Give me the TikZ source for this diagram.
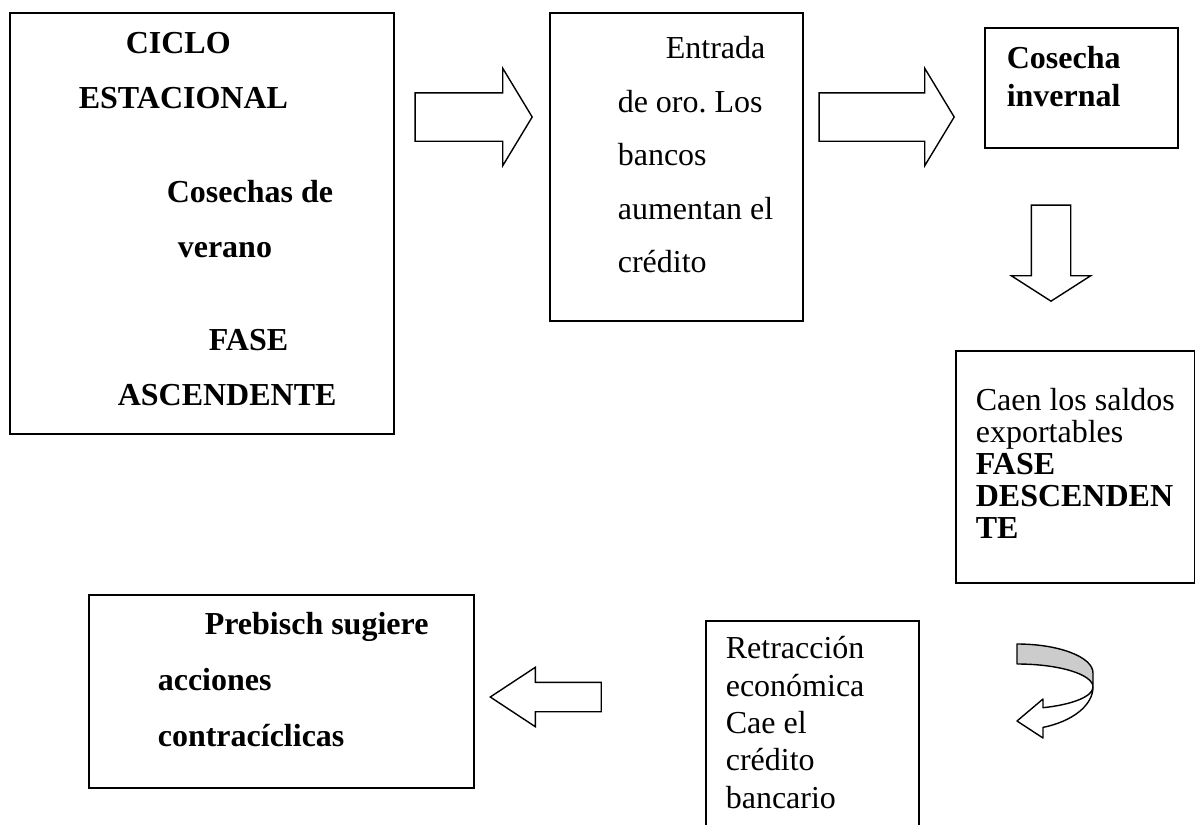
\documentclass[tikz,border=0pt]{standalone}
\usepackage{fontspec}
\setmainfont{Liberation Serif}
\usetikzlibrary{shapes.arrows}

\begin{document}
\begin{tikzpicture}[x=1pt, y=-1pt,
caja/.style={draw, line width=1.6pt, inner sep=0pt, anchor=north west},
flecha/.style={draw, fill=white, line width=1.4pt, single arrow, anchor=tip},
cinta/.style={draw, line width=1.4pt, line join=round}]
\useasboundingbox (0,0) rectangle (1195,825);
% cajas de texto
\node [caja] (verano) at (9,12) {\parbox[c][421pt][t]{384pt}{\bfseries\fontsize{32}{55}\selectfont
\rule{0pt}{41pt}\hspace*{116pt}CICLO\\
\hspace*{69pt}ESTACIONAL\\[39pt]
\hspace*{157pt}Cosechas de\\
\hspace*{168pt}verano\\[38pt]
\hspace*{199pt}FASE\\
\hspace*{108pt}ASCENDENTE}};
\node [caja] (oro) at (549,12) {\parbox[c][308pt][t]{253pt}{\fontsize{32}{53.5}\selectfont
\rule{0pt}{46pt}\hspace*{116pt}Entrada\\
\hspace*{68pt}de oro.\ Los\\
\hspace*{68pt}bancos\\
\hspace*{68pt}aumentan el\\
\hspace*{68pt}crédito}};
\node [caja] (invernal) at (984,27) {\parbox[c][120pt][t]{193pt}{\bfseries\fontsize{32}{38}\selectfont
\rule{0pt}{41pt}\hspace*{22pt}Cosecha\\
\hspace*{22pt}invernal}};
\node [caja] (descendente) at (955,350) {\parbox[c][232pt][t]{239pt}{\fontsize{32}{32}\selectfont
\rule{0pt}{60pt}\hspace*{20pt}Caen los saldos\\
\hspace*{20pt}exportables\\
\hspace*{20pt}\textbf{FASE}\\
\hspace*{20pt}\textbf{DESCENDEN}\\
\hspace*{20pt}\textbf{TE}}};
\node [caja] (retraccion) at (705,620) {\parbox[c][240pt][t]{213pt}{\fontsize{32}{37.3}\selectfont
\rule{0pt}{38pt}\hspace*{20pt}Retracción\\
\hspace*{20pt}económica\\
\hspace*{20pt}Cae el\\
\hspace*{20pt}crédito\\
\hspace*{20pt}bancario}};
\node [caja] (contraciclicas) at (88,594) {\parbox[c][193pt][t]{385pt}{\bfseries\fontsize{32}{56}\selectfont
\rule{0pt}{40pt}\hspace*{116pt}Prebisch sugiere\\
\hspace*{69pt}acciones\\
\hspace*{69pt}contracíclicas}};
% flechas de bloque
\node [flecha, inner sep=23.5pt, minimum height=117pt, single arrow head extend=24.5pt,
single arrow tip angle=117.7] (flecha1) at (533,117) {};
\node [flecha, inner sep=23.5pt, minimum height=135pt, single arrow head extend=24.5pt,
single arrow tip angle=117.7] (flecha2) at (955,117) {};
\node [flecha, inner sep=19pt, minimum height=96pt, single arrow head extend=20pt,
single arrow tip angle=114.7, shape border rotate=270] (flecha3) at (1051,302) {};
\node [flecha, inner sep=14pt, minimum height=111pt, single arrow head extend=15pt,
single arrow tip angle=66.8, shape border rotate=180] (flecha4) at (489,697) {};
% flecha curva
\coordinate (giro) at (1017,687);
\begin{scope}[shift={(giro)}]
\path [cinta, fill=white] (76,0) arc [start angle=0, end angle=70, x radius=76, y radius=43]
-- (26,51) -- (0,34) -- (26,12) -- (26,20.7)
arc [start angle=70, end angle=0, x radius=76, y radius=22] -- cycle;
\path [cinta, fill=gray!40] (0,-43) arc [start angle=-90, end angle=0, x radius=76, y radius=29]
-- (76,0) arc [start angle=0, end angle=-90, x radius=76, y radius=23] -- cycle;
\end{scope}
\end{tikzpicture}
\end{document}
